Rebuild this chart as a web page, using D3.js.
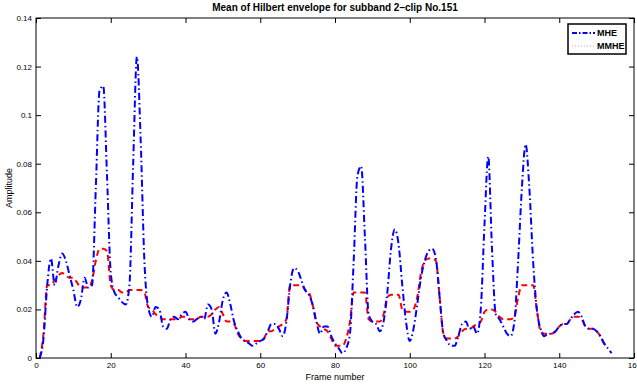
<!DOCTYPE html>
<html>
<head>
<meta charset="utf-8">
<script src="https://cdnjs.cloudflare.com/ajax/libs/d3/7.8.5/d3.min.js"></script>
<style>
body { margin: 0; background: #fff; }
svg { font-family: "Liberation Sans", Arial, sans-serif; }
.axis path, .axis line { stroke: #000; }
.axis text { font-size: 8px; fill: #000; }
</style>
</head>
<body>
<script>
// frame numbers and values
var framesMHE = d3.range(1, 155);
var framesMMHE = d3.range(1, 154);

var mhe = [
  0, 0.008, 0.030, 0.041, 0.030, 0.038, 0.043, 0.040, 0.034, 0.028,
  0.021, 0.024, 0.033, 0.029, 0.030, 0.070, 0.110, 0.112, 0.075, 0.035,
  0.027, 0.025, 0.023, 0.022, 0.030, 0.080, 0.124, 0.090, 0.040, 0.021,
  0.017, 0.021, 0.020, 0.013, 0.012, 0.016, 0.017, 0.016, 0.018, 0.019,
  0.016, 0.015, 0.016, 0.017, 0.016, 0.022, 0.020, 0.010, 0.015, 0.024,
  0.027, 0.022, 0.015, 0.011, 0.008, 0.007, 0.006, 0.005, 0.006, 0.007,
  0.008, 0.011, 0.014, 0.014, 0.012, 0.009, 0.015, 0.030, 0.037, 0.036,
  0.032, 0.028, 0.026, 0.022, 0.015, 0.010, 0.013, 0.013, 0.009, 0.006,
  0.004, 0.002, 0.004, 0.010, 0.040, 0.075, 0.079, 0.050, 0.018, 0.015,
  0.014, 0.011, 0.015, 0.027, 0.045, 0.053, 0.047, 0.030, 0.015, 0.007,
  0.012, 0.022, 0.033, 0.040, 0.044, 0.045, 0.041, 0.025, 0.010, 0.007,
  0.005, 0.005, 0.009, 0.014, 0.015, 0.012, 0.013, 0.010, 0.020, 0.055,
  0.083, 0.045, 0.018, 0.016, 0.013, 0.010, 0.009, 0.015, 0.040, 0.070,
  0.088, 0.070, 0.040, 0.020, 0.012, 0.009, 0.010, 0.010, 0.011, 0.013,
  0.014, 0.014, 0.016, 0.018, 0.019, 0.017, 0.013, 0.012, 0.012, 0.011,
  0.009, 0.006, 0.004, 0.002
];

var mmhe = [
  0, 0.010, 0.030, 0.030, 0.032, 0.034, 0.035, 0.034, 0.033, 0.033,
  0.031, 0.029, 0.029, 0.029, 0.032, 0.040, 0.045, 0.045, 0.044, 0.030,
  0.028, 0.028, 0.027, 0.027, 0.028, 0.028, 0.028, 0.028, 0.027, 0.021,
  0.020, 0.018, 0.017, 0.016, 0.016, 0.016, 0.016, 0.016, 0.017, 0.017,
  0.016, 0.016, 0.016, 0.017, 0.017, 0.017, 0.018, 0.020, 0.021, 0.018,
  0.015, 0.015, 0.014, 0.010, 0.008, 0.007, 0.007, 0.007, 0.007, 0.007,
  0.008, 0.011, 0.011, 0.012, 0.013, 0.014, 0.016, 0.030, 0.030, 0.030,
  0.030, 0.028, 0.027, 0.022, 0.015, 0.013, 0.012, 0.011, 0.008, 0.005,
  0.005, 0.005, 0.008, 0.015, 0.027, 0.027, 0.027, 0.027, 0.016, 0.015,
  0.015, 0.015, 0.018, 0.025, 0.026, 0.026, 0.026, 0.020, 0.019, 0.019,
  0.020, 0.025, 0.035, 0.040, 0.041, 0.041, 0.040, 0.025, 0.010, 0.008,
  0.008, 0.008, 0.009, 0.011, 0.012, 0.012, 0.013, 0.014, 0.015, 0.019,
  0.020, 0.020, 0.019, 0.017, 0.016, 0.016, 0.016, 0.017, 0.025, 0.030,
  0.030, 0.030, 0.030, 0.020, 0.011, 0.010, 0.010, 0.010, 0.011, 0.013,
  0.014, 0.014, 0.016, 0.017, 0.017, 0.016, 0.013, 0.012, 0.012, 0.011,
  0.009, 0.006, 0.005
];

var xTicks = [0, 20, 40, 60, 80, 100, 120, 140, 160];
var yTicks = [0, 0.02, 0.04, 0.06, 0.08, 0.1, 0.12, 0.14];
var seriesNames = ["MHE", "MMHE"];

var margin = {top: 18, right: 3, bottom: 27, left: 36},
    width = 637 - margin.left - margin.right,
    height = 385 - margin.top - margin.bottom;

var x = d3.scaleLinear().domain([0, 160]).range([0, width]);
var y = d3.scaleLinear().domain([0, 0.14]).range([height, 0]);

var svg = d3.select("body").append("svg")
    .attr("width", 637)
    .attr("height", 385);

var g = svg.append("g")
    .attr("transform", "translate(" + margin.left + "," + margin.top + ")");

// ticks point inward, like matlab
g.append("g")
    .attr("class", "x axis")
    .attr("transform", "translate(0," + height + ")")
    .call(d3.axisBottom(x).tickValues(xTicks).tickSizeInner(-5).tickSizeOuter(0).tickPadding(4)
        .tickFormat(d3.format("d")));

g.append("g")
    .attr("class", "x axis top")
    .call(d3.axisTop(x).tickValues(xTicks).tickSizeInner(-5).tickSizeOuter(0).tickFormat(""));

g.append("g")
    .attr("class", "y axis")
    .call(d3.axisLeft(y).tickValues(yTicks).tickSizeInner(-5).tickSizeOuter(0).tickPadding(4)
        .tickFormat(function(d) { return d === 0 ? "0" : String(+d.toFixed(2)); }));

g.append("g")
    .attr("class", "y axis right")
    .attr("transform", "translate(" + width + ",0)")
    .call(d3.axisRight(y).tickValues(yTicks).tickSizeInner(-5).tickSizeOuter(0).tickFormat(""));

g.selectAll(".axis .domain").remove();

g.append("rect")
    .attr("width", width)
    .attr("height", height)
    .attr("fill", "none")
    .attr("stroke", "#000")
    .attr("stroke-width", 1);

var lineMHE = d3.line()
    .x(function(d, i) { return x(framesMHE[i]); })
    .y(function(d) { return y(d); })
    .curve(d3.curveMonotoneX);

var lineMMHE = d3.line()
    .x(function(d, i) { return x(framesMMHE[i]); })
    .y(function(d) { return y(d); })
    .curve(d3.curveMonotoneX);

g.append("path")
    .datum(mmhe)
    .attr("fill", "none")
    .attr("stroke", "#ff0000")
    .attr("stroke-width", 2)
    .attr("stroke-dasharray", "6,4")
    .attr("d", lineMMHE);

g.append("path")
    .datum(mhe)
    .attr("fill", "none")
    .attr("stroke", "#0000ff")
    .attr("stroke-width", 2)
    .attr("stroke-dasharray", "7,3,1.5,3")
    .attr("d", lineMHE);

// title and labels
svg.append("text")
    .attr("x", margin.left + width / 2)
    .attr("y", 11)
    .attr("text-anchor", "middle")
    .style("font-size", "10px")
    .style("font-weight", "bold")
    .text("Mean of Hilbert envelope for subband 2\u2013clip No.151");

svg.append("text")
    .attr("x", margin.left + width / 2)
    .attr("y", 380)
    .attr("text-anchor", "middle")
    .style("font-size", "9px")
    .text("Frame number");

svg.append("text")
    .attr("transform", "translate(12," + (margin.top + height / 2) + ") rotate(-90)")
    .attr("text-anchor", "middle")
    .style("font-size", "9px")
    .text("Amplitude");

// legend
var legend = svg.append("g")
    .attr("transform", "translate(568,24)");

legend.append("rect")
    .attr("width", 58)
    .attr("height", 30)
    .attr("fill", "#fff")
    .attr("stroke", "#000")
    .attr("stroke-width", 1.5);

var legendStyles = [
    {stroke: "#0000ff", width: 2, dash: "5,2,1.5,2"},
    {stroke: "#ff9999", width: 1, dash: "1,2"}
];

var item = legend.selectAll(".item")
    .data(seriesNames)
    .enter().append("g")
    .attr("class", "item")
    .attr("transform", function(d, i) { return "translate(0," + (9 + i * 13) + ")"; });

item.append("line")
    .attr("x1", 4)
    .attr("x2", 27)
    .attr("stroke", function(d, i) { return legendStyles[i].stroke; })
    .attr("stroke-width", function(d, i) { return legendStyles[i].width; })
    .attr("stroke-dasharray", function(d, i) { return legendStyles[i].dash; });

item.append("text")
    .attr("x", 29)
    .attr("dy", "0.35em")
    .style("font-size", "9px")
    .style("font-weight", "bold")
    .text(function(d) { return d; });
</script>
</body>
</html>
